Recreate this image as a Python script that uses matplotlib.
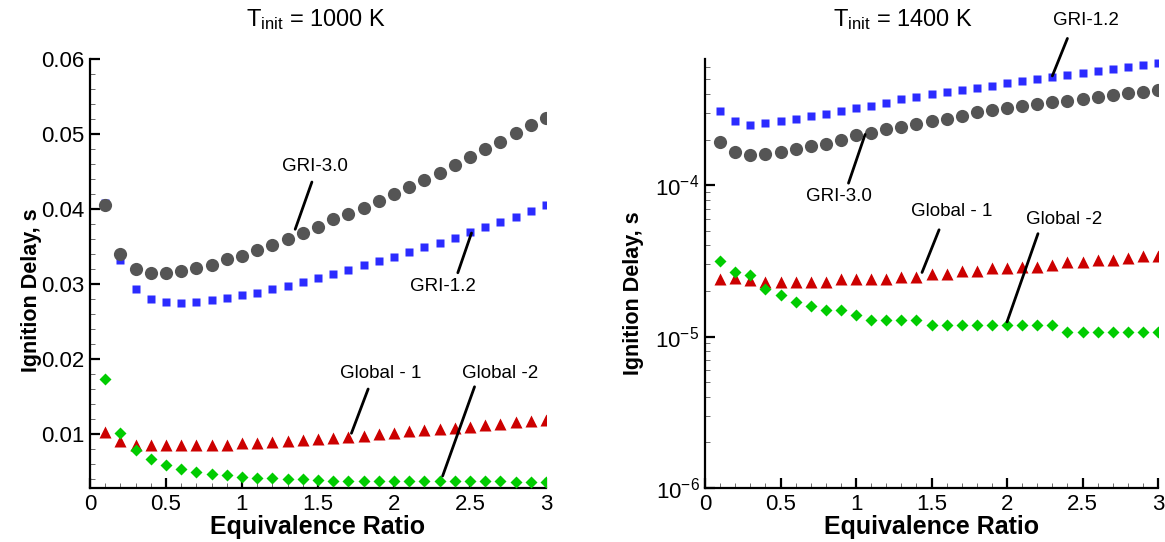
import matplotlib
matplotlib.use("Agg")
import matplotlib.pyplot as plt
from matplotlib.ticker import MultipleLocator, LogLocator, NullFormatter

plt.rcParams['font.family'] = ['Liberation Sans', 'DejaVu Sans']
plt.rcParams['mathtext.fontset'] = 'custom'
plt.rcParams['mathtext.rm'] = 'Liberation Sans'
plt.rcParams['mathtext.it'] = 'Liberation Sans:italic'
plt.rcParams['mathtext.bf'] = 'Liberation Sans:bold'

# ---------------- data ----------------
phi = [round(0.1 * i, 1) for i in range(1, 31)]

# T_init = 1000 K
gri30_1000 = [0.0406, 0.0340, 0.0320, 0.0315, 0.0315, 0.0318, 0.0322, 0.0326, 0.0333, 0.0337,
              0.0346, 0.0352, 0.0360, 0.0368, 0.0376, 0.0387, 0.0393, 0.0402, 0.0411, 0.0420,
              0.0430, 0.0439, 0.0448, 0.0459, 0.0470, 0.0480, 0.0490, 0.0502, 0.0512, 0.0522]
gri12_1000 = [0.0408, 0.0332, 0.0293, 0.0280, 0.0276, 0.0275, 0.0276, 0.0279, 0.0282, 0.0285,
              0.0288, 0.0293, 0.0298, 0.0303, 0.0308, 0.0313, 0.0319, 0.0325, 0.0331, 0.0336,
              0.0343, 0.0349, 0.0355, 0.0362, 0.0369, 0.0376, 0.0383, 0.0390, 0.0398, 0.0405]
glob1_1000 = [0.0103, 0.0091, 0.0086, 0.0085, 0.0085, 0.0085, 0.0085, 0.0086, 0.0086, 0.0088,
              0.0088, 0.0090, 0.0091, 0.0092, 0.0093, 0.0095, 0.0096, 0.0098, 0.0100, 0.0102,
              0.0104, 0.0105, 0.0107, 0.0108, 0.0110, 0.0112, 0.0114, 0.0116, 0.0117, 0.0119]
glob2_1000 = [0.0174, 0.0102, 0.0079, 0.0067, 0.0059, 0.0054, 0.0050, 0.0047, 0.0045, 0.0043,
              0.0042, 0.0041, 0.0040, 0.0040, 0.0039, 0.0038, 0.0038, 0.0038, 0.0037, 0.0037,
              0.0037, 0.0037, 0.0037, 0.0037, 0.0037, 0.0037, 0.0037, 0.0036, 0.0036, 0.0036]

# T_init = 1400 K
gri12_1400 = [3.10e-4, 2.67e-4, 2.48e-4, 2.57e-4, 2.65e-4, 2.75e-4, 2.86e-4, 2.97e-4, 3.10e-4, 3.21e-4,
              3.35e-4, 3.50e-4, 3.68e-4, 3.81e-4, 3.97e-4, 4.11e-4, 4.26e-4, 4.39e-4, 4.52e-4, 4.71e-4,
              4.86e-4, 5.05e-4, 5.20e-4, 5.36e-4, 5.52e-4, 5.67e-4, 5.87e-4, 6.05e-4, 6.21e-4, 6.37e-4]
gri30_1400 = [1.93e-4, 1.65e-4, 1.58e-4, 1.61e-4, 1.65e-4, 1.72e-4, 1.80e-4, 1.88e-4, 2.00e-4, 2.13e-4,
              2.21e-4, 2.33e-4, 2.43e-4, 2.52e-4, 2.65e-4, 2.75e-4, 2.88e-4, 3.02e-4, 3.11e-4, 3.24e-4,
              3.31e-4, 3.43e-4, 3.52e-4, 3.61e-4, 3.70e-4, 3.81e-4, 3.91e-4, 4.05e-4, 4.15e-4, 4.26e-4]
glob1_1400 = [2.40e-5, 2.45e-5, 2.36e-5, 2.30e-5, 2.30e-5, 2.30e-5, 2.30e-5, 2.30e-5, 2.40e-5, 2.40e-5,
              2.40e-5, 2.40e-5, 2.48e-5, 2.48e-5, 2.58e-5, 2.58e-5, 2.70e-5, 2.70e-5, 2.82e-5, 2.82e-5,
              2.89e-5, 2.89e-5, 2.99e-5, 3.11e-5, 3.11e-5, 3.19e-5, 3.19e-5, 3.31e-5, 3.41e-5, 3.41e-5]
glob2_1400 = [3.16e-5, 2.68e-5, 2.55e-5, 2.06e-5, 1.88e-5, 1.69e-5, 1.58e-5, 1.49e-5, 1.49e-5, 1.38e-5,
              1.29e-5, 1.29e-5, 1.29e-5, 1.29e-5, 1.19e-5, 1.19e-5, 1.19e-5, 1.19e-5, 1.19e-5, 1.19e-5,
              1.19e-5, 1.19e-5, 1.19e-5, 1.08e-5, 1.08e-5, 1.08e-5, 1.08e-5, 1.08e-5, 1.08e-5, 1.08e-5]

titles = ["1000 K", "1400 K"]
xlabel = "Equivalence Ratio"
ylabel = "Ignition Delay, s"

# ---------------- styles ----------------
C_GRAY = '#555555'
C_BLUE = '#2b2bff'
C_RED = '#cc0000'
C_GREEN = '#00cc00'

fig = plt.figure(figsize=(11.65, 5.42), dpi=100)
axL = fig.add_axes([0.07725, 0.0996, 0.3914, 0.7915])
axR = fig.add_axes([0.6052, 0.0996, 0.3888, 0.7915])


def draw(ax, gri12, gri30, g1, g2):
    ax.plot(phi, gri12, ls='none', marker='s', ms=6.3, color=C_BLUE, mec='none', zorder=3)
    ax.plot(phi, gri30, ls='none', marker='o', ms=9.5, color=C_GRAY, mec='none', zorder=4)
    ax.plot(phi, g1, ls='none', marker='^', ms=8.5, color=C_RED, mec='none', zorder=5)
    ax.plot(phi, g2, ls='none', marker='D', ms=6.2, color=C_GREEN, mec='none', zorder=6)


draw(axL, gri12_1000, gri30_1000, glob1_1000, glob2_1000)
draw(axR, gri12_1400, gri30_1400, glob1_1400, glob2_1400)

for ax in (axL, axR):
    ax.set_xlim(0, 3)
    ax.spines['top'].set_visible(False)
    ax.spines['right'].set_visible(False)
    ax.spines['left'].set_linewidth(1.6)
    ax.spines['bottom'].set_linewidth(1.6)
    ax.xaxis.set_major_locator(MultipleLocator(0.5))
    ax.xaxis.set_minor_locator(MultipleLocator(0.1))
    ax.tick_params(which='major', direction='in', length=7, width=1.6, labelsize=16, pad=4)
    ax.tick_params(which='minor', direction='in', length=3.5, width=0.6, color='#555555')
    ax.set_xlabel(xlabel, fontsize=18, fontweight='bold', labelpad=0)
    ax.xaxis.set_major_formatter(plt.FuncFormatter(lambda v, p: ('%g' % v)))

axL.set_ylim(0.0028, 0.06)
axL.yaxis.set_major_locator(MultipleLocator(0.01))
axL.yaxis.set_minor_locator(MultipleLocator(0.002))
axL.yaxis.set_major_formatter(plt.FuncFormatter(lambda v, p: '%.2f' % v))
axL.set_ylabel(ylabel, fontsize=15.5, fontweight='bold')
axL.yaxis.set_label_coords(-0.105, 0.46)

axR.set_yscale('log')
axR.set_ylim(1e-6, 6.8e-4)
axR.yaxis.set_major_locator(LogLocator(base=10, numticks=10))
axR.yaxis.set_minor_locator(LogLocator(base=10, subs=(2, 3, 4, 5, 6, 7, 8, 9), numticks=20))
axR.yaxis.set_minor_formatter(NullFormatter())
axR.set_ylabel(ylabel, fontsize=15.5, fontweight='bold')
axR.yaxis.set_label_coords(-0.135, 0.455)

# titles
fig.text(316 / 1165, 1 - 20 / 542, r'T$_{\mathrm{init}}$ = ' + titles[0], ha='center', va='center', fontsize=17)
fig.text(903 / 1165, 1 - 20 / 542, r'T$_{\mathrm{init}}$ = ' + titles[1], ha='center', va='center', fontsize=17)

# annotations: (text, text pos, line start, line end)
annL = [("GRI-3.0", (1.48, 0.0457), (1.46, 0.0436), (1.35, 0.0373)),
        ("GRI-1.2", (2.32, 0.0297), (2.42, 0.0315), (2.51, 0.0368)),
        ("Global - 1", (1.91, 0.0181), (1.83, 0.0160), (1.72, 0.0101)),
        ("Global -2", (2.70, 0.0181), (2.53, 0.0163), (2.32, 0.0044))]
annR = [("GRI-1.2", (2.52, 1.22e-3), (2.40, 9.3e-4), (2.30, 5.26e-4)),
        ("GRI-3.0", (0.887, 8.47e-5), (1.06, 2.16e-4), (0.95, 1.03e-4)),
        ("Global - 1", (1.636, 6.65e-5), (1.55, 5.07e-5), (1.437, 2.65e-5)),
        ("Global -2", (2.38, 5.9e-5), (2.205, 4.78e-5), (2.0, 1.25e-5))]

for ax, anns in ((axL, annL), (axR, annR)):
    for txt, tp, ls, le in anns:
        ax.text(tp[0], tp[1], txt, ha='center', va='center', fontsize=13.5, zorder=8, clip_on=False)
        ax.annotate('', xy=le, xytext=ls,
                    arrowprops=dict(arrowstyle='-', lw=2, color='black', shrinkA=0, shrinkB=0),
                    annotation_clip=False, zorder=7)

fig.savefig('out.png', dpi=100)
